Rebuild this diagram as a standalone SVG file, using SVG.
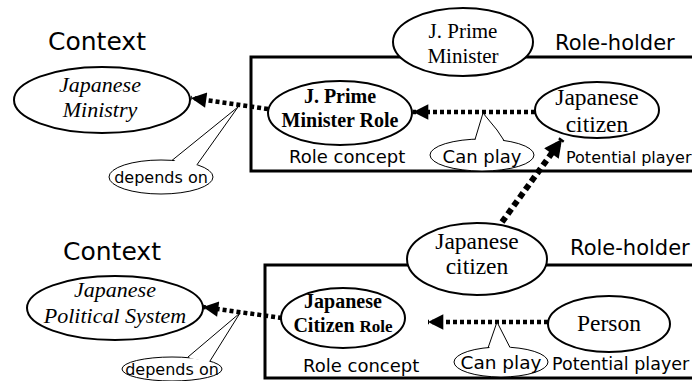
<svg xmlns="http://www.w3.org/2000/svg" width="692" height="381" viewBox="0 0 692 381">
<defs>
<style>
.sans{font-family:"DejaVu Sans",Verdana,sans-serif;fill:#000}
.serif{font-family:"Liberation Serif","Times New Roman","DejaVu Serif",serif;fill:#000}
.node{fill:#fff;stroke:#000;stroke-width:2}
.call{fill:#fff;stroke:#000;stroke-width:1}
.box{fill:none;stroke:#000;stroke-width:3}
.dot{fill:none;stroke:#000;stroke-width:4.5;stroke-dasharray:4 3}
.dotthick{fill:none;stroke:#000;stroke-width:6;stroke-dasharray:6 4}
</style>
<marker id="ah" viewBox="0 0 10 10" refX="10" refY="5" markerWidth="4" markerHeight="3.4" markerUnits="strokeWidth" orient="auto">
<path d="M0,0 L10,5 L0,10 z" fill="#000"/>
</marker>
<marker id="ah2" viewBox="0 0 10 10" refX="10" refY="5" markerWidth="3.2" markerHeight="3" markerUnits="strokeWidth" orient="auto">
<path d="M0,0 L10,5 L0,10 z" fill="#000"/>
</marker>
</defs>
<rect width="692" height="381" fill="#fff"/>

<g id="upper-frame">
<rect class="box" x="251" y="57" width="460" height="114"/>
<text class="sans" x="48" y="50" font-size="25">Context</text>
<text class="sans" x="555" y="50" font-size="21">Role-holder</text>
<text class="sans" x="289" y="163" font-size="18">Role concept</text>
<text class="sans" x="566" y="163" font-size="16">Potential player</text>
</g>

<g id="lower-frame">
<rect class="box" x="265" y="265" width="460" height="113"/>
<text class="sans" x="63" y="260" font-size="25">Context</text>
<text class="sans" x="570" y="255" font-size="21">Role-holder</text>
<text class="sans" x="303" y="372" font-size="18">Role concept</text>
<text class="sans" x="552" y="370" font-size="17.5">Potential player</text>
</g>

<g id="connectors">
<line class="dot" x1="268" y1="109" x2="191" y2="98" marker-end="url(#ah)"/>
<line class="dot" x1="535" y1="112" x2="413" y2="112" marker-end="url(#ah)"/>
<line class="dotthick" x1="502" y1="222" x2="562" y2="139" marker-end="url(#ah2)"/>
<line class="dot" x1="282" y1="318" x2="203" y2="307" marker-end="url(#ah)"/>
<line class="dot" x1="548" y1="322" x2="428" y2="322" marker-end="url(#ah)"/>
</g>

<g id="ctx-ministry">
<ellipse class="node" cx="102" cy="100" rx="88" ry="33"/>
<text class="serif" x="100" y="92" font-size="22" font-style="italic" text-anchor="middle">Japanese</text>
<text class="serif" x="100" y="117" font-size="22" font-style="italic" text-anchor="middle">Ministry</text>
</g>

<g id="pm-role">
<ellipse class="node" cx="340" cy="113" rx="72" ry="32"/>
<text class="serif" x="340" y="103" font-size="20" font-weight="bold" text-anchor="middle">J. Prime</text>
<text class="serif" x="340" y="127" font-size="20" font-weight="bold" text-anchor="middle">Minister Role</text>
</g>

<g id="pm-holder">
<ellipse class="node" cx="463" cy="42" rx="70" ry="34"/>
<text class="serif" x="463" y="38" font-size="21" text-anchor="middle">J. Prime</text>
<text class="serif" x="463" y="63" font-size="21" text-anchor="middle">Minister</text>
</g>

<g id="citizen-player">
<ellipse class="node" cx="597" cy="110" rx="62" ry="28"/>
<text class="serif" x="597" y="105" font-size="23.5" text-anchor="middle">Japanese</text>
<text class="serif" x="597" y="132" font-size="23.5" text-anchor="middle">citizen</text>
</g>

<g id="depends-on-1">
<ellipse class="call" cx="161" cy="177" rx="52" ry="17"/>
<polygon points="173,162 238,107 196,166" fill="#fff"/>
<polyline points="172,160.4 238,107 197,164.7" fill="none" stroke="#000" stroke-width="1"/>
<text class="sans" x="161" y="183" font-size="16" text-anchor="middle">depends on</text>
</g>

<g id="can-play-1">
<ellipse class="call" cx="482" cy="155" rx="52" ry="16"/>
<polygon points="475,141 483,113 497,130 504,142" fill="#fff"/>
<polyline points="475,139.5 483,113 497,130 504,140.5" fill="none" stroke="#000" stroke-width="1"/>
<text class="sans" x="482" y="163" font-size="18" text-anchor="middle">Can play</text>
</g>

<g id="ctx-political">
<ellipse class="node" cx="115" cy="308" rx="88" ry="32"/>
<text class="serif" x="115" y="297" font-size="22" font-style="italic" text-anchor="middle">Japanese</text>
<text class="serif" x="115" y="323" font-size="22" font-style="italic" text-anchor="middle">Political System</text>
</g>

<g id="citizen-role">
<ellipse class="node" cx="343" cy="318" rx="62" ry="30"/>
<text class="serif" x="343" y="308" font-size="20" font-weight="bold" text-anchor="middle">Japanese</text>
<text class="serif" x="343" y="332" font-size="20" font-weight="bold" text-anchor="middle">Citizen <tspan font-size="17">Role</tspan></text>
</g>

<g id="citizen-holder">
<ellipse class="node" cx="477" cy="259" rx="70" ry="36"/>
<text class="serif" x="477" y="249" font-size="23.5" text-anchor="middle">Japanese</text>
<text class="serif" x="477" y="274" font-size="23.5" text-anchor="middle">citizen</text>
</g>

<g id="person">
<ellipse class="node" cx="609" cy="324" rx="61" ry="28"/>
<text class="serif" x="609" y="331" font-size="23.5" text-anchor="middle">Person</text>
</g>

<g id="depends-on-2">
<ellipse class="call" cx="172" cy="369" rx="50" ry="12"/>
<polygon points="189,358 240,313 209,362" fill="#fff"/>
<polyline points="188,357 240,313 210,361" fill="none" stroke="#000" stroke-width="1"/>
<text class="sans" x="172" y="375" font-size="16" text-anchor="middle">depends on</text>
</g>

<g id="can-play-2">
<ellipse class="call" cx="501" cy="362" rx="47" ry="15"/>
<polygon points="489,349 497,322 511,349" fill="#fff"/>
<polyline points="488,348 497,322 510,347.5" fill="none" stroke="#000" stroke-width="1"/>
<text class="sans" x="501" y="369" font-size="18.5" text-anchor="middle">Can play</text>
</g>
</svg>
